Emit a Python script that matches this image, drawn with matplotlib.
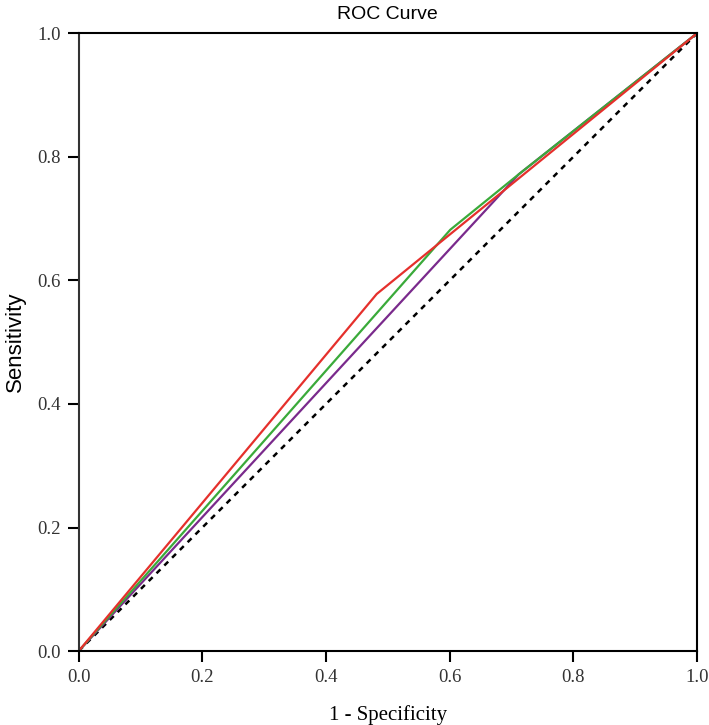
import matplotlib
matplotlib.use('Agg')
import matplotlib.pyplot as plt

# ROC points
red_x = [0.0, 0.482, 1.0]
red_y = [0.0, 0.578, 1.0]
green_x = [0.0, 0.601, 0.712, 1.0]
green_y = [0.0, 0.682, 0.772, 1.0]
purple_x = [0.0, 0.712, 1.0]
purple_y = [0.0, 0.772, 1.0]
ref_x = [0.0, 1.0]
ref_y = [0.0, 1.0]
ticks = [0.0, 0.2, 0.4, 0.6, 0.8, 1.0]
tick_labels = ['0.0', '0.2', '0.4', '0.6', '0.8', '1.0']

fig = plt.figure(figsize=(7.09, 7.25), dpi=100)
ax = fig.add_axes([0.111, 0.102, 0.872, 0.852])

ax.plot(ref_x, ref_y, color='black', linestyle=(0, (2.2, 2.2)), linewidth=1.8)
ax.plot(purple_x, purple_y, color='#7a2a8c', linewidth=1.6)
ax.plot(green_x, green_y, color='#3aaa3a', linewidth=1.6)
ax.plot(red_x, red_y, color='#e5302c', linewidth=1.6)

ax.set_xlim(0, 1)
ax.set_ylim(0, 1)
ax.set_xticks(ticks)
ax.set_yticks(ticks)
ax.set_xticklabels(tick_labels, family='Liberation Serif', fontsize=13.5, color='#333333')
ax.set_yticklabels(tick_labels, family='Liberation Serif', fontsize=13.5, color='#333333')
ax.tick_params(direction='out', length=8, width=1.5, pad=5)

for s in ax.spines.values():
    s.set_linewidth(1.5)
    s.set_color('black')
ax.spines['left'].set_color('#333333')

ax.set_title('ROC Curve', family='Liberation Sans', fontsize=14, pad=10)
ax.set_ylabel('Sensitivity', family='Liberation Sans', fontsize=16, labelpad=8)
ax.set_xlabel('1 - Specificity', family='Liberation Serif', fontsize=15, labelpad=14)

plt.savefig('out.png', dpi=100)
